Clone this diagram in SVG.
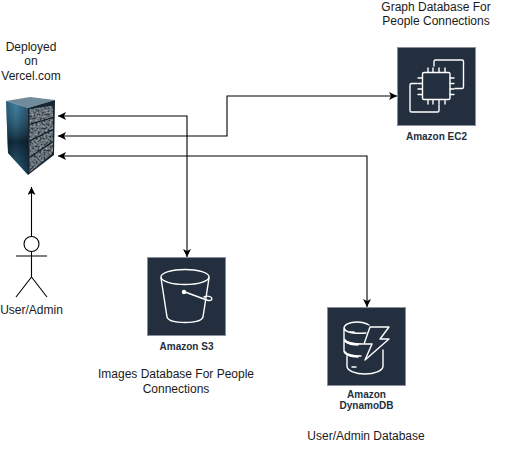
<svg xmlns="http://www.w3.org/2000/svg" width="517" height="452" viewBox="0 0 517 452">
<style>
text{font-family:"Liberation Sans",Arial,sans-serif;fill:#1a1a1a;text-anchor:middle}
.t{font-size:12px}
.l{font-size:10px;font-weight:bold;fill:#232f3e}
.c{fill:none;stroke:#000;stroke-width:1.1}
.box{fill:#232f3e;stroke:#8a919a;stroke-width:1}
.i{fill:none;stroke:#fff;stroke-width:1.4;stroke-linejoin:round;stroke-linecap:round}
.a{fill:none;stroke:#000;stroke-width:1.1}
.p{fill:#2b3942;filter:url(#noise)}
.s{fill:none;stroke:#0c1a24;stroke-width:1.2}
</style>
<defs>
<marker id="arr" markerUnits="userSpaceOnUse" markerWidth="9" markerHeight="9" refX="8" refY="4" orient="auto-start-reverse"><path d="M0 0L8 4L0 8L2 4Z" fill="#000"/></marker>
<linearGradient id="side" x1="0" x2="1" y1="0" y2="0"><stop offset="0" stop-color="#1d4a64"/><stop offset=".45" stop-color="#3a7c9e"/><stop offset="1" stop-color="#1d3f55"/></linearGradient>
<linearGradient id="sideV" x1="0" x2="0" y1="0" y2="1"><stop offset="0" stop-color="#4f8aa8" stop-opacity=".25"/><stop offset=".55" stop-color="#06121b" stop-opacity=".75"/><stop offset="1" stop-color="#0d2a3c" stop-opacity=".35"/></linearGradient>
<filter id="noise" x="0" y="0" width="1" height="1"><feTurbulence type="fractalNoise" baseFrequency=".5" numOctaves="2" seed="3" result="n"/><feColorMatrix in="n" type="matrix" values="0 0 0 0 .6 0 0 0 0 .66 0 0 0 0 .7 0 0 0 1 -.3" result="m"/><feComposite in="m" in2="SourceGraphic" operator="in" result="k"/><feMerge><feMergeNode in="SourceGraphic"/><feMergeNode in="k"/></feMerge></filter>
</defs>
<g id="connectors">
<path class="c" marker-start="url(#arr)" marker-end="url(#arr)" d="M58 116H187V257"/>
<path class="c" marker-start="url(#arr)" marker-end="url(#arr)" d="M58 136H227V96H397"/>
<path class="c" marker-start="url(#arr)" marker-end="url(#arr)" d="M58 156H367V307"/>
<path class="c" marker-end="url(#arr)" d="M31.500 236V187"/>
</g>
<g id="server">
<path d="M6 101L30 97L55 100L28 108Z" fill="#6f8b9c"/>
<path d="M6 101L28 108V175L8 153Z" fill="url(#side)"/>
<path d="M6 101L28 108V175L8 153Z" fill="url(#sideV)"/>
<path d="M28 108L55 100L54 155L28 175Z" fill="#152430"/>
<path class="p" d="M29.500 109L53 105.500V153L29.500 172.500Z"/>
<path class="s" d="M29.500 124.500L53 117.500M29.500 141L53 129.500M29.500 157.500L53 141.500"/>
</g>
<g id="server-label">
<text class="t" x="31" y="51">Deployed</text>
<text class="t" x="31" y="65">on</text>
<text class="t" x="31" y="80">Vercel.com</text>
</g>
<g id="actor">
<circle class="a" cx="31.500" cy="244" r="7.500" fill="#fff"/>
<path class="a" d="M31.500 251.500V277M16 256H47M31.500 277L16 297M31.500 277L47 297"/>
<text class="t" x="31.500" y="314">User/Admin</text>
</g>
<g id="ec2">
<rect class="box" x="397.500" y="47.500" width="78" height="78"/>
<rect class="i" x="422.500" y="72.500" width="27.500" height="27" rx="1.500"/>
<path class="i" d="M428 72V68M433 72V68M439 72V68M445 72V68M428 100V104M433 100V104M439 100V104M445 100V104M422 78H418M422 83.500H418M422 89H418M422 94.500H418M450 78H454M450 83.500H454M450 89H454M450 94.500H454"/>
<path class="i" d="M434 66V61.500Q434 60 435.500 60H462Q463.500 60 463.500 61.500V87Q463.500 88.500 462 88.500H455"/>
<path class="i" d="M417 83.500H411.500Q410 83.500 410 85V110.500Q410 112 411.500 112H437.500Q439 112 439 110.500V105"/>
<text class="l" x="436.500" y="140">Amazon EC2</text>
</g>
<g id="graph-label">
<text class="t" x="436" y="11">Graph Database For</text>
<text class="t" x="436" y="25">People Connections</text>
</g>
<g id="s3">
<rect class="box" x="147.500" y="257.500" width="78" height="78"/>
<ellipse class="i" cx="185" cy="277" rx="24" ry="7.500"/>
<path class="i" d="M161 278L167 317Q169 322.500 185 322.500Q201 322.500 203 317L209 278"/>
<path class="i" d="M185 292L208 300.500Q213 301 211.500 297.500Q208 295 204 297"/>
<circle cx="184" cy="292" r="2.200" fill="#fff"/>
<text class="l" x="186.500" y="350">Amazon S3</text>
</g>
<g id="s3-label">
<text class="t" x="176" y="378">Images Database For People</text>
<text class="t" x="176" y="393">Connections</text>
</g>
<g id="dynamodb">
<rect class="box" x="327.500" y="307.500" width="78" height="78"/>
<path class="i" d="M369 325Q364 322 357 322C349 322 344 325 344 328V339C344 342 349 345 358 345M344 328C345 332 352 334 366 333M344 339V351C344 354 350 357 358 357M344 339C346 342 352 344 363 344M344 351C346 354 352 356 361 356M347 356V366C347 371 356 374 365 374C374 374 383 371 383 366V350"/>
<path class="i" d="M350 332H354M350 344H354M350 356H354M352 367H356"/>
<path class="i" d="M370 327H389L380 339H389L365 360L372 344H364Z"/>
<text class="l" x="366.500" y="398">Amazon</text>
<text class="l" x="366.500" y="409">DynamoDB</text>
</g>
<g id="dynamodb-label">
<text class="t" x="366" y="440">User/Admin Database</text>
</g>
</svg>
